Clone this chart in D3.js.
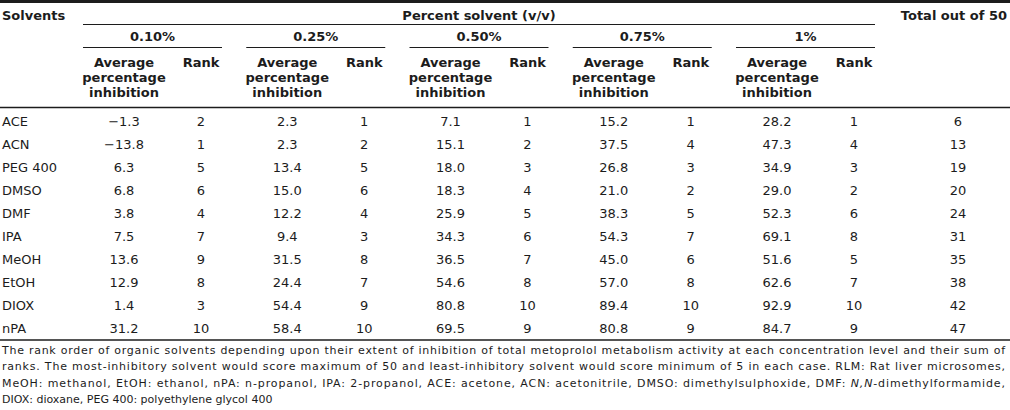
<!DOCTYPE html>
<html><head><meta charset="utf-8">
<script src="https://cdn.jsdelivr.net/npm/d3@7"></script>
<style>
html,body{margin:0;padding:0;background:#fff;}
svg{display:block;}
</style></head>
<body>
<script>
const solvents = ["ACE","ACN","PEG 400","DMSO","DMF","IPA","MeOH","EtOH","DIOX","nPA"];
const concentrations = ["0.10%","0.25%","0.50%","0.75%","1%"];
const avg010 = [-1.3,-13.8,6.3,6.8,3.8,7.5,13.6,12.9,1.4,31.2];
const rank010 = [2,1,5,6,4,7,9,8,3,10];
const avg025 = [2.3,2.3,13.4,15.0,12.2,9.4,31.5,24.4,54.4,58.4];
const rank025 = [1,2,5,6,4,3,8,7,9,10];
const avg050 = [7.1,15.1,18.0,18.3,25.9,34.3,36.5,54.6,80.8,69.5];
const rank050 = [1,2,3,4,5,6,7,8,10,9];
const avg075 = [15.2,37.5,26.8,21.0,38.3,54.3,45.0,57.0,89.4,80.8];
const rank075 = [1,4,3,2,5,7,6,8,10,9];
const avg100 = [28.2,47.3,34.9,29.0,52.3,69.1,51.6,62.6,92.9,84.7];
const rank100 = [1,4,3,2,6,8,5,7,10,9];
const totals = [6,13,19,20,24,31,35,38,42,47];
const footLines = [
  [{t:"The rank order of organic solvents depending upon their extent of inhibition of total metoprolol metabolism activity at each concentration level and their sum of"}],
  [{t:"ranks. The most-inhibitory solvent would score maximum of 50 and least-inhibitory solvent would score minimum of 5 in each case. RLM: Rat liver microsomes,"}],
  [{t:"MeOH: methanol, EtOH: ethanol, nPA: n-propanol, IPA: 2-propanol, ACE: acetone, ACN: acetonitrile, DMSO: dimethylsulphoxide, DMF: "},{t:"N,N",i:true},{t:"-dimethylformamide,"}],
  [{t:"DIOX: dioxane, PEG 400: polyethylene glycol 400"}]
];

const avgs = [avg010, avg025, avg050, avg075, avg100];
const ranks = [rank010, rank025, rank050, rank075, rank100];

const W = 1010, H = 410;
const ink = "#1c1c1c";
const bodyFont = "DejaVu Sans, Verdana, sans-serif";

const svg = d3.select("body").append("svg").attr("width", W).attr("height", H);

const y = d3.scaleBand().domain(solvents).range([110, 340]);
const groupX = d3.scaleLinear().domain([0, concentrations.length - 1]).range([83, 736]);
const groupW = 139;
const avgOff = 41, rankOff = 118;
const totalX = 958;
const fmt = d3.format(".1f");

// top thick rule
svg.append("rect").attr("x",0).attr("y",0).attr("width",W).attr("height",3).attr("fill",ink);

const hdr = svg.append("g").attr("font-family", bodyFont).attr("font-weight","bold")
  .attr("font-size", 13).attr("fill", ink).attr("dominant-baseline","central");

hdr.append("text").attr("x",2).attr("y",15).text("Solvents");
hdr.append("text").attr("x",(groupX(0)+groupX(4)+groupW)/2).attr("y",15).attr("text-anchor","middle").text("Percent solvent (v/v)");
hdr.append("text").attr("x",1007).attr("y",15).attr("text-anchor","end").text("Total out of 50");

svg.append("line").attr("x1",groupX(0)).attr("x2",groupX(4)+groupW).attr("y1",24.5).attr("y2",24.5)
  .attr("stroke",ink).attr("stroke-width",1.2);

concentrations.forEach((c,i) => {
  const gx = groupX(i);
  hdr.append("text").attr("x", gx + groupW/2).attr("y", 36).attr("text-anchor","middle").text(c);
  svg.append("line").attr("x1",gx).attr("x2",gx+groupW).attr("y1",47.5).attr("y2",47.5)
    .attr("stroke",ink).attr("stroke-width",1.2);
  ["Average","percentage","inhibition"].forEach((w,k) => {
    hdr.append("text").attr("x", gx+avgOff).attr("y", 62 + k*15).attr("text-anchor","middle").text(w);
  });
  hdr.append("text").attr("x", gx+rankOff).attr("y", 62).attr("text-anchor","middle").text("Rank");
});

svg.append("line").attr("x1",0).attr("x2",W).attr("y1",107.5).attr("y2",107.5).attr("stroke",ink).attr("stroke-width",1.5);

const body = svg.append("g").attr("font-family", bodyFont).attr("font-size", 13).attr("fill", ink)
  .attr("dominant-baseline","central");

solvents.forEach((s, r) => {
  const cy = y(s) + y.bandwidth()/2;
  body.append("text").attr("x",2).attr("y",cy).text(s);
  concentrations.forEach((c,i) => {
    const gx = groupX(i);
    body.append("text").attr("x",gx+avgOff).attr("y",cy).attr("text-anchor","middle").text(fmt(avgs[i][r]));
    body.append("text").attr("x",gx+rankOff).attr("y",cy).attr("text-anchor","middle").text(ranks[i][r]);
  });
  body.append("text").attr("x",totalX).attr("y",cy).attr("text-anchor","middle").text(totals[r]);
});

svg.append("line").attr("x1",0).attr("x2",W).attr("y1",340).attr("y2",340).attr("stroke",ink).attr("stroke-width",1.5);

const foot = svg.append("g").attr("font-family", bodyFont).attr("font-size", 11).attr("fill", ink)
  .attr("dominant-baseline","central");
footLines.forEach((parts, k) => {
  const t = foot.append("text").attr("x",2).attr("y", 350 + k*16.3);
  parts.forEach(p => {
    const ts = t.append("tspan").text(p.t);
    if (p.i) ts.attr("font-style","italic");
  });
  if (k < footLines.length - 1) t.attr("textLength", 1003).attr("lengthAdjust","spacing");
});
</script>
</body></html>
